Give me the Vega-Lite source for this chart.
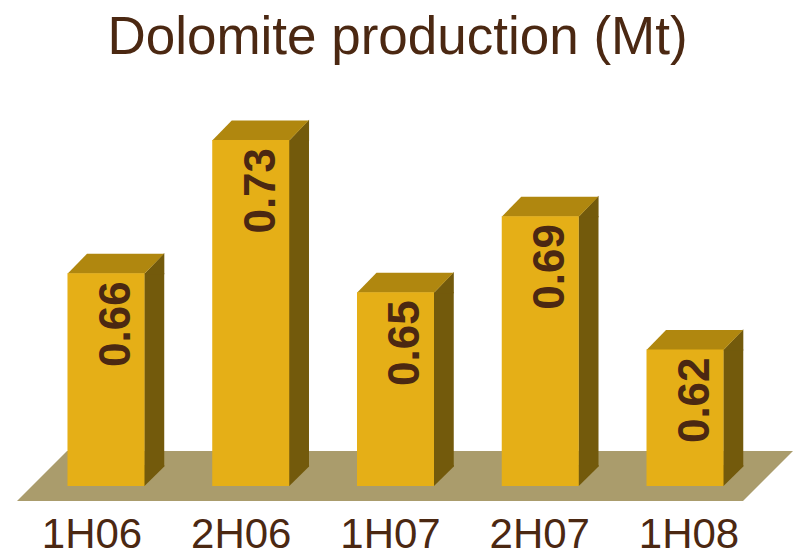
{
  "$schema": "https://vega.github.io/schema/vega-lite/v6.json",
  "width": 795,
  "height": 488,
  "autosize": {"type": "none"},
  "padding": {"left": 0, "right": 0, "top": 70, "bottom": 0},
  "background": "white",
  "title": {
    "text": "Dolomite production (Mt)",
    "fontSize": 53,
    "font": "Liberation Sans, Arial, sans-serif",
    "fontWeight": "normal",
    "color": "#4B2812",
    "anchor": "middle",
    "offset": 5
  },
  "config": {"view": {"stroke": null}},
  "data": {
    "values": [
      {"period": "1H06", "value": 0.66},
      {"period": "2H06", "value": 0.73},
      {"period": "1H07", "value": 0.65},
      {"period": "2H07", "value": 0.69},
      {"period": "1H08", "value": 0.62}
    ]
  },
  "resolve": {"scale": {"x": "independent"}},
  "layer": [
    {
      "layer": [
        {
          "data": {"values": [{}]},
          "mark": {"type": "point", "shape": "M-378.5,25L347.5,25L397.5,-25L-328.5,-25Z", "size": 4, "filled": true, "fill": "#AA9C6C", "strokeWidth": 0, "opacity": 1},
          "encoding": {
            "x": {"datum": "1H07", "type": "nominal", "scale": {"type": "band", "domain": ["1H06", "2H06", "1H07", "2H07", "1H08"], "paddingInner": 0.468, "paddingOuter": 0.48, "align": 0.4856}, "axis": null},
            "y": {"datum": 0.55355, "type": "quantitative", "scale": {"domain": [0.5105, 0.76673], "nice": false, "zero": false}, "axis": null}
          }
        },
        {
          "mark": {"type": "bar", "color": "#735A0C", "width": 20, "xOffset": 48.25, "y2Offset": -19.5},
          "encoding": {
            "x": {"field": "period", "type": "nominal", "sort": null, "axis": null},
            "y": {"field": "value", "type": "quantitative", "axis": null},
            "y2": {"datum": 0.5483}
          }
        },
        {
          "mark": {"type": "point", "shape": "M38,1L58.3,-20.3L58.3,1Z", "size": 4, "filled": true, "fill": "#735A0C", "strokeWidth": 0, "opacity": 1},
          "encoding": {
            "x": {"field": "period", "type": "nominal", "sort": null, "axis": null},
            "y": {"field": "value", "type": "quantitative", "axis": null}
          }
        },
        {
          "mark": {"type": "point", "shape": "M38,-21L58.3,-21L58.3,-19.5L38.5,0L38,0Z", "size": 4, "filled": true, "fill": "#735A0C", "strokeWidth": 0, "opacity": 1},
          "encoding": {
            "x": {"field": "period", "type": "nominal", "sort": null, "axis": null},
            "y": {"datum": 0.5483, "type": "quantitative", "axis": null}
          }
        },
        {
          "mark": {"type": "point", "shape": "M-38.5,0.5L38.5,0.5L58,-19.5L-19,-19.5Z", "size": 4, "filled": true, "fill": "#B0870F", "strokeWidth": 0, "opacity": 1},
          "encoding": {
            "x": {"field": "period", "type": "nominal", "sort": null, "axis": null},
            "y": {"field": "value", "type": "quantitative", "axis": null}
          }
        },
        {
          "mark": {"type": "bar", "color": "#E5AF17"},
          "encoding": {
            "x": {"field": "period", "type": "nominal", "sort": null, "axis": null},
            "y": {"field": "value", "type": "quantitative", "axis": null},
            "y2": {"datum": 0.5483}
          }
        },
        {
          "mark": {"type": "text", "angle": 270, "align": "right", "baseline": "alphabetic", "dx": -8, "dy": 24, "fontSize": 44, "fontWeight": "bold", "font": "Liberation Sans, Arial, sans-serif", "color": "#4B2812"},
          "encoding": {
            "x": {"field": "period", "type": "nominal", "sort": null, "axis": null},
            "y": {"field": "value", "type": "quantitative", "axis": null},
            "text": {"field": "value", "type": "quantitative", "format": ".2f"}
          }
        }
      ]
    },
    {
      "mark": {"type": "text", "fontSize": 42, "font": "Liberation Sans, Arial, sans-serif", "color": "#4B2812", "baseline": "alphabetic", "align": "center"},
      "encoding": {
        "x": {"field": "period", "type": "nominal", "sort": null, "scale": {"type": "point", "padding": 0.6633, "align": 0.4646}, "axis": null},
        "y": {"datum": 0.51574, "type": "quantitative", "scale": {"domain": [0.5105, 0.76673], "nice": false, "zero": false}, "axis": null},
        "text": {"field": "period"}
      }
    }
  ]
}
